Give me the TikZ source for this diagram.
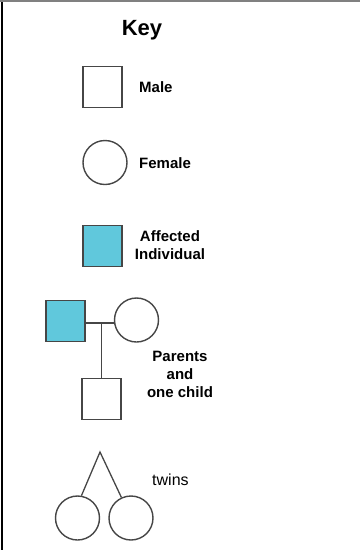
\documentclass[tikz,border=0pt]{standalone}
\usepackage{fontspec}
\setmainfont{Liberation Sans}
\definecolor{affected}{RGB}{96,200,220}
\definecolor{lineclr}{RGB}{70,70,70}
\begin{document}
\begin{tikzpicture}[x=1pt,y=-1pt,
  symline/.style={draw=lineclr,line width=1.4pt},
  malebox/.style={symline,rectangle,minimum width=39pt,minimum height=41pt,inner sep=0pt},
  femalecirc/.style={symline,circle,minimum size=44pt,inner sep=0pt},
  lbl/.style={font=\bfseries\fontsize{15}{18}\selectfont,align=center,inner sep=0pt},
  conn/.style={draw=lineclr,line width=1.3pt}]
\useasboundingbox (0,0) rectangle (360,550);
% frame edges
\draw[black,line width=2pt] (2,0) -- (2,550);
\draw[gray,line width=1.5pt] (0,0.75) -- (360,0.75);

% title
\node[font=\bfseries\fontsize{22}{26}\selectfont,anchor=base,inner sep=0pt] (key) at (142,35) {Key};

% male
\node[malebox] (male) at (102.5,87) {};
\node[lbl,anchor=base west] (malelbl) at (139,92) {Male};

% female
\node[femalecirc] (female) at (105,162.5) {};
\node[lbl,anchor=base west] (femalelbl) at (139,168) {Female};

% affected
\node[malebox,fill=affected] (aff) at (102.5,246) {};
\node[lbl,anchor=north] (afflbl) at (170,230) {Affected\\Individual};

% parents and one child
\node[malebox,fill=affected] (father) at (65.5,321) {};
\node[femalecirc] (mother) at (136.5,320) {};
\node[malebox] (child) at (101.5,399) {};
\coordinate (mid) at (101.5,323);
\draw[conn] (father.east |- mid) -- (mother.west |- mid);
\draw[conn] (mid) -- (child.north);
\node[lbl,anchor=north] (parlbl) at (180,351) {Parents\\and\\one child};

% twins
\node[femalecirc] (twinA) at (77.5,518) {};
\node[femalecirc] (twinB) at (131,518) {};
\coordinate (apex) at (100,452);
\draw[conn] (twinA.80) -- (apex) -- (twinB.115);
\node[font=\fontsize{16}{19}\selectfont,anchor=base west,inner sep=0pt] (twinlbl) at (152,485) {twins};
\end{tikzpicture}
\end{document}
